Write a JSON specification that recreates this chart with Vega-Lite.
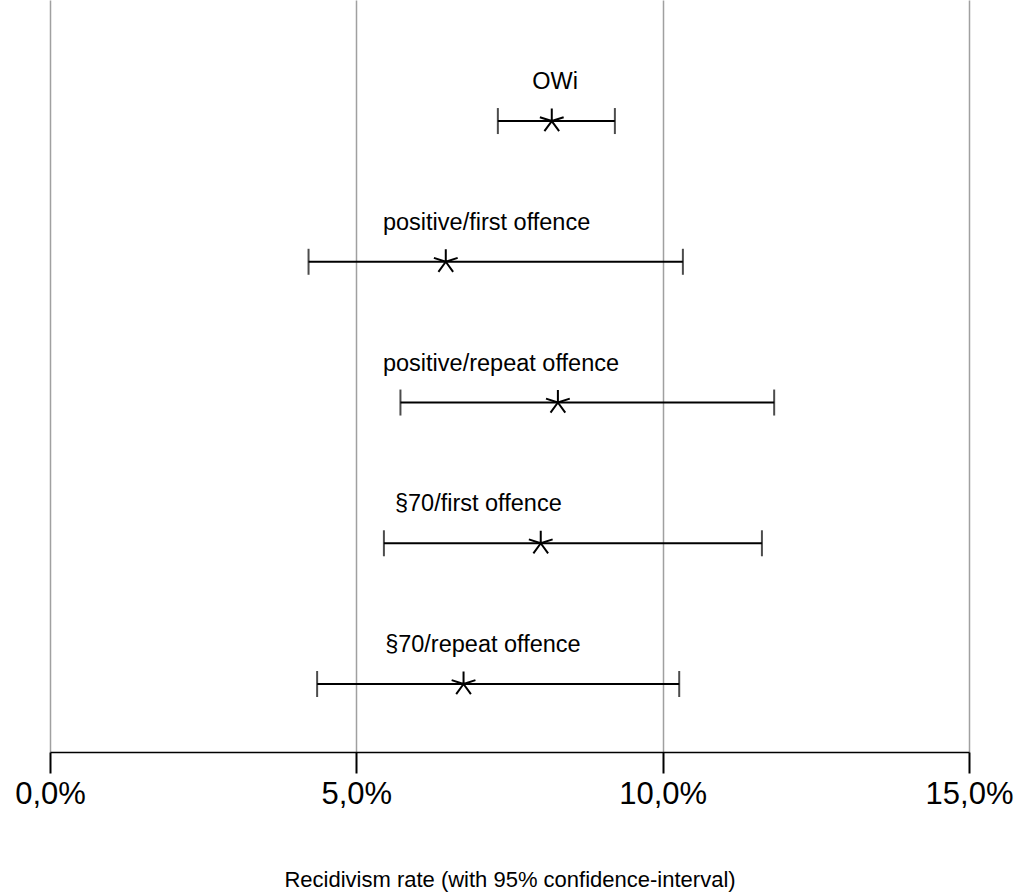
{
  "$schema": "https://vega.github.io/schema/vega-lite/v6.json",
  "width": 919,
  "height": 752,
  "autosize": {"type": "none"},
  "padding": {"left": 50, "top": 0, "right": 50, "bottom": 143},
  "background": "white",
  "config": {
    "view": {"stroke": null},
    "font": "Liberation Sans"
  },
  "data": {
    "values": [
      {"row": 1, "group": "OWi", "lo": 7.31, "hi": 9.22, "est": 8.19, "label_x": 7.87},
      {"row": 2, "group": "positive/first offence", "lo": 4.22, "hi": 10.33, "est": 6.46, "label_x": 5.435},
      {"row": 3, "group": "positive/repeat offence", "lo": 5.72, "hi": 11.82, "est": 8.29, "label_x": 5.435},
      {"row": 4, "group": "§70/first offence", "lo": 5.45, "hi": 11.62, "est": 8.01, "label_x": 5.63},
      {"row": 5, "group": "§70/repeat offence", "lo": 4.36, "hi": 10.27, "est": 6.75, "label_x": 5.47}
    ]
  },
  "encoding": {
    "y": {
      "field": "row",
      "type": "quantitative",
      "scale": {"domain": [0.14, 5.483], "nice": false, "zero": false, "reverse": true},
      "axis": null
    }
  },
  "layer": [
    {
      "mark": {"type": "rule", "color": "black", "strokeWidth": 2},
      "encoding": {
        "x": {
          "field": "lo",
          "type": "quantitative",
          "scale": {"domain": [0, 15], "nice": false, "zero": false},
          "axis": {
            "values": [0, 5, 10, 15],
            "labelExpr": "replace(format(datum.value, '.1f'), '.', ',') + '%'",
            "title": "Recidivism rate (with 95% confidence-interval)",
            "titleFont": "Liberation Sans",
            "titleFontSize": 22,
            "titleFontWeight": "normal",
            "titleColor": "black",
            "titlePadding": 60,
            "labelFont": "Liberation Sans",
            "labelFontSize": 31,
            "labelColor": "black",
            "labelPadding": 6,
            "labelFlush": false,
            "labelOverlap": false,
            "domainColor": "black",
            "domainWidth": 1.5,
            "tickColor": "black",
            "tickWidth": 2,
            "tickSize": 21,
            "grid": true,
            "gridColor": "#a0a0a0",
            "gridWidth": 1.5
          }
        },
        "x2": {"field": "hi"}
      }
    },
    {
      "mark": {"type": "tick", "orient": "vertical", "color": "black", "size": 26, "thickness": 2},
      "encoding": {"x": {"field": "lo", "type": "quantitative"}}
    },
    {
      "mark": {"type": "tick", "orient": "vertical", "color": "black", "size": 26, "thickness": 2},
      "encoding": {"x": {"field": "hi", "type": "quantitative"}}
    },
    {
      "mark": {
        "type": "point",
        "shape": "M0,0L0,-1M0,0L0.951,-0.309M0,0L-0.951,-0.309M0,0L0.588,0.809M0,0L-0.588,0.809",
        "filled": false,
        "stroke": "black",
        "strokeWidth": 2,
        "size": 625,
        "opacity": 1
      },
      "encoding": {"x": {"field": "est", "type": "quantitative"}}
    },
    {
      "mark": {
        "type": "text",
        "align": "left",
        "baseline": "alphabetic",
        "dy": -32,
        "font": "Liberation Sans",
        "fontSize": 23.5,
        "color": "black"
      },
      "encoding": {
        "x": {"field": "label_x", "type": "quantitative"},
        "text": {"field": "group"}
      }
    }
  ]
}
